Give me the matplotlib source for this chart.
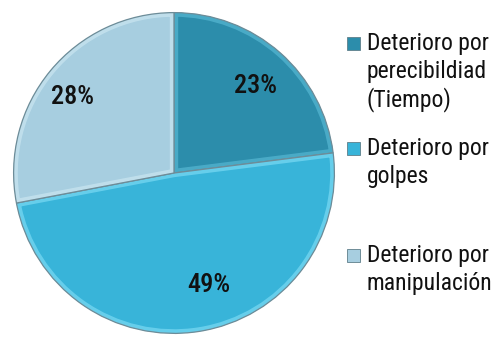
import matplotlib
matplotlib.use("Agg")
import matplotlib.pyplot as plt
from matplotlib.patches import Rectangle, Wedge

categories = ["Deterioro por\nperecibildiad\n(Tiempo)", "Deterioro por\ngolpes", "Deterioro por\nmanipulación"]
values = [23, 49, 28]
colors = ["#2c8dab", "#38b4d9", "#a7cee0"]
rim_colors = ["#4fb0cc", "#6fd3ef", "#c4e2ee"]

# percentage label positions (data units, pie radius = 1)
label_pos = [(0.51, 0.54), (0.216, -0.70), (-0.63, 0.475)]
# baseline of each legend entry's first line (figure pixels from top)
legend_rows = [50, 155, 262]
line_pitch = 28

W, H = 499, 339
fig = plt.figure(figsize=(W / 100, H / 100), dpi=100)
fig.patch.set_facecolor("white")

cx, cy, r = 174, 173, 162
ax = fig.add_axes([(cx - r) / W, (H - cy - r) / H, 2 * r / W, 2 * r / H])

font = ["Roboto Condensed", "DejaVu Sans"]

wedges, _ = ax.pie(values, colors=colors, startangle=90, counterclock=False,
                   wedgeprops=dict(linewidth=0))

# soft inner bevel along every wedge's border
for w, rc in zip(wedges, rim_colors):
    rim = Wedge(w.center, w.r, w.theta1, w.theta2, fill=False,
                edgecolor=rc, linewidth=6, alpha=0.85)
    ax.add_patch(rim)
    rim.set_clip_path(w)
    outline = Wedge(w.center, w.r, w.theta1, w.theta2, fill=False,
                    edgecolor="#6d8c98", linewidth=0.9)
    ax.add_patch(outline)

ax.set_xlim(-1.01, 1.01)
ax.set_ylim(-1.01, 1.01)
ax.set_aspect("equal")
ax.axis("off")

for v, (x, y) in zip(values, label_pos):
    ax.text(x, y, f"{v}%", ha="center", va="center", fontsize=19,
            fontweight=500, family=font, color="#111111")

# legend: coloured square beside the first line of each entry
sq = 13
for cat, col, row in zip(categories, colors, legend_rows):
    fig.patches.append(Rectangle((347 / W, (H - row) / H), sq / W, sq / H,
                                 transform=fig.transFigure, facecolor=col,
                                 edgecolor="#5f7f8a", linewidth=0.6))
    for i, line in enumerate(cat.split("\n")):
        fig.text(367 / W, (H - row - i * line_pitch) / H, line, ha="left",
                 va="baseline", fontsize=17, family=font, color="#111111")

fig.savefig("out.png", dpi=100)
